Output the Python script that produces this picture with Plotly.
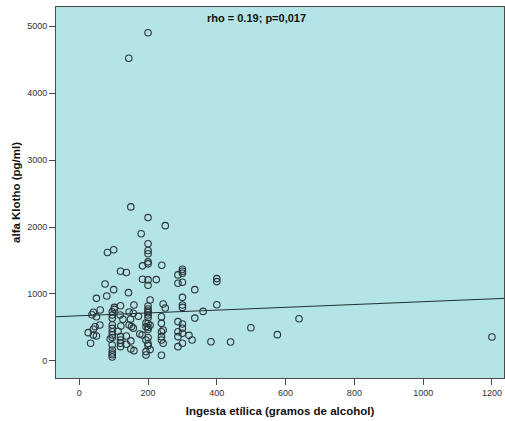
import plotly.graph_objects as go

# Ingesta etílica (g alcohol) and alfa Klotho (pg/ml)
ingesta = [
    200, 144,
    150, 200, 250, 180,
    200, 200, 200, 200, 200,
    82, 100,
    120, 137,
    184, 240,
    300, 300, 300,
    287,
    184, 200, 224, 200,
    287, 300,
    400, 400,
    75, 100, 143, 336,
    50, 80, 300, 206,
    102, 102, 120, 159,
    200, 200, 200, 200,
    244, 250,
    300, 300,
    400, 360,
    61, 37, 50, 41,
    96, 96, 96,
    119, 127,
    145, 157, 149,
    172,
    200, 200, 200, 200, 200,
    239, 239,
    287, 300, 300,
    336,
    60, 46, 41,
    96, 96, 96, 96,
    121, 113,
    145, 152, 157,
    176,
    194, 194, 206,
    239, 244,
    287, 300,
    319, 328,
    383, 440,
    26, 33,
    41, 50,
    90, 96, 96, 96, 96, 96, 96,
    120, 120, 120, 120,
    137, 150, 137, 150, 159,
    183,
    194, 200, 200, 200, 194, 206,
    239, 239, 244,
    287, 287, 300,
    239, 194,
    499, 576, 639, 1200,
]
klotho = [
    4900, 4520,
    2300, 2140, 2020, 1900,
    1750, 1650, 1600, 1480, 1450,
    1620, 1660,
    1340, 1320,
    1420, 1430,
    1370, 1340, 1310,
    1285,
    1220, 1210, 1215, 1130,
    1160, 1175,
    1230, 1185,
    1150, 1065, 1020, 1065,
    935, 970, 950, 910,
    800, 770, 825, 836,
    820, 775, 745, 720,
    850, 790,
    836, 800,
    840, 740,
    760, 690, 660, 727,
    736, 687, 637,
    687, 622,
    731, 712, 622,
    667,
    687, 650, 560, 500, 470,
    661, 562,
    587, 552, 488,
    640,
    537, 512, 473,
    537, 487, 437, 388,
    522, 443,
    537, 515, 490,
    403,
    567, 512, 533,
    437, 463,
    437, 413,
    383, 313,
    288, 284,
    423, 264,
    388, 373,
    328, 350, 238, 164, 120, 94, 60,
    363, 313, 264, 214,
    373, 300, 250, 180, 154,
    388,
    313, 350, 260, 230, 140, 170,
    363, 313, 264,
    363, 214, 264,
    85, 90,
    497, 393, 631, 358,
]

# Linear fit line
fit_intercept = 675
fit_slope = 0.21
x_range = [-67.6, 1235]
y_range = [-254, 5284]
fit_x = x_range
fit_y = [fit_intercept + fit_slope * v for v in fit_x]

x_ticks = [0, 200, 400, 600, 800, 1000, 1200]
y_ticks = [0, 1000, 2000, 3000, 4000, 5000]

fig = go.Figure()
fig.add_trace(go.Scatter(
    x=fit_x, y=fit_y, mode="lines",
    line=dict(color="#1f2f33", width=1), hoverinfo="skip", showlegend=False))
fig.add_trace(go.Scatter(
    x=ingesta, y=klotho, mode="markers",
    marker=dict(symbol="circle-open", size=6.5, color="#2a3438", line=dict(width=1.1)),
    showlegend=False))

fig.add_annotation(x=516, y=5119, text="<b>rho = 0.19; p=0,017</b>", showarrow=False,
                   font=dict(family="Liberation Sans, Arial", size=11, color="#111"))

axis_common = dict(
    showgrid=False, zeroline=False, showline=True, mirror=True,
    linecolor="#4a4a4a", linewidth=1, ticks="outside", ticklen=6, tickwidth=1,
    tickcolor="#4a4a4a", tickfont=dict(family="Liberation Sans, Arial", size=9, color="#333"),
)
fig.update_xaxes(range=x_range, tickvals=x_ticks, ticktext=[str(v) for v in x_ticks],
                 title=dict(text="<b>Ingesta etílica (gramos de alcohol)</b>",
                            font=dict(family="Liberation Sans, Arial", size=11.5, color="#111"),
                            standoff=10),
                 **axis_common)
fig.update_yaxes(range=y_range, tickvals=y_ticks, ticktext=[str(v) for v in y_ticks],
                 title=dict(text="<b>alfa Klotho (pg/ml)</b>",
                            font=dict(family="Liberation Sans, Arial", size=11.5, color="#111"),
                            standoff=4),
                 **axis_common)
fig.update_layout(
    width=505, height=421,
    margin=dict(l=56, r=1, t=7, b=43),
    plot_bgcolor="#b4e4e6", paper_bgcolor="white",
)
fig.write_html("out.html")
